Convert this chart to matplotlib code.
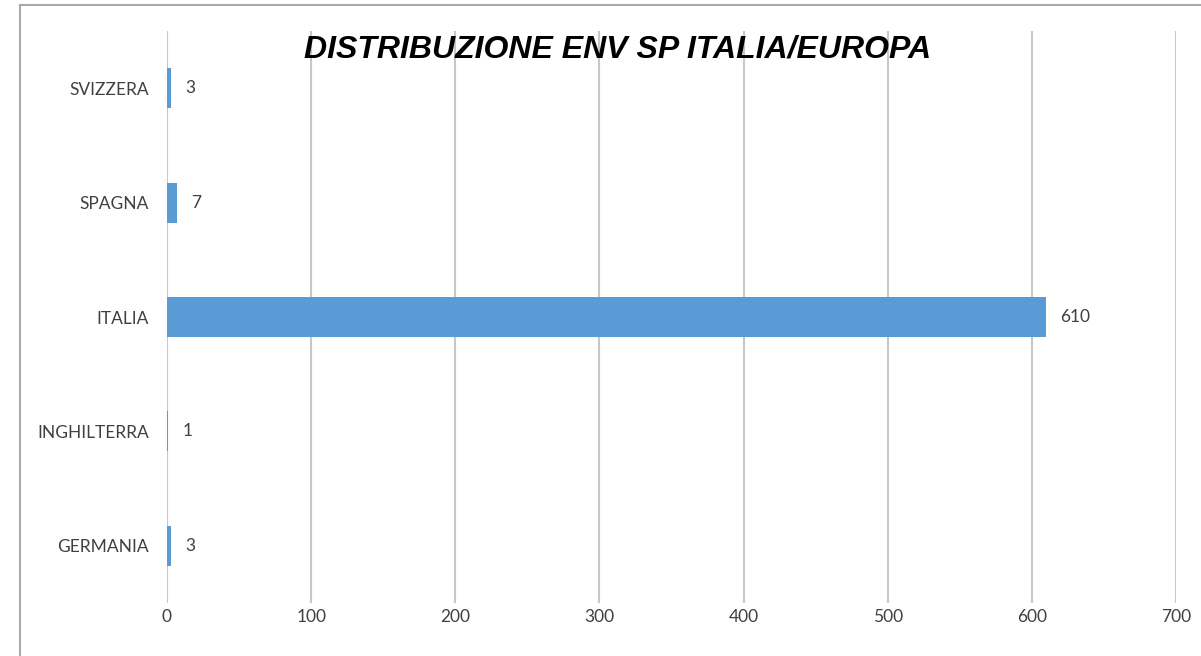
import numpy as np
import matplotlib.pyplot as plt
from matplotlib.lines import Line2D

countries = ["GERMANIA", "INGHILTERRA", "ITALIA", "SPAGNA", "SVIZZERA"]
counts = [3, 1, 610, 7, 3]
xticks = [0, 100, 200, 300, 400, 500, 600, 700]
title = "DISTRIBUZIONE ENV SP ITALIA/EUROPA"

W, H = 1201, 656
fig = plt.figure(figsize=(W / 100, H / 100), dpi=100)
ax = fig.add_axes([167 / W, 1 - 603 / H, (1176 - 167) / W, (603 - 31) / H])

y = np.arange(len(countries))
ax.barh(y, counts, height=0.35, color="#5B9BD5", edgecolor="none", zorder=3)
for yi, v in zip(y, counts):
    ax.annotate(str(v), (v, yi), xytext=(10, 0), textcoords="offset points",
                ha="left", va="center", fontsize=12.5, color="#404040",
                family="Lato")

ax.set_xlim(0, 700)
ax.set_ylim(-0.5, len(countries) - 0.5)
ax.set_xticks(xticks)
ax.set_yticks(y)
ax.set_yticklabels(countries)
ax.grid(axis="x", color="#C8C8C8", lw=1.5, zorder=0)
ax.tick_params(length=0, labelsize=12.5, labelcolor="#404040")
ax.tick_params(axis="x", pad=4)
ax.tick_params(axis="y", pad=13)
for lab in ax.get_xticklabels() + ax.get_yticklabels():
    lab.set_family("Lato")
for s in ax.spines.values():
    s.set_visible(False)

fig.text(618 / W, 1 - 50 / H, title, ha="center", va="center",
         fontsize=23, fontweight="bold", fontstyle="italic",
         family="Liberation Sans")

# frame border (only top and left visible in the crop)
fig.add_artist(Line2D([20 / W, 1], [1 - 5 / H, 1 - 5 / H], color="#AAAAAA", lw=1.5,
                      transform=fig.transFigure))
fig.add_artist(Line2D([20 / W, 20 / W], [0, 1 - 5 / H], color="#AAAAAA", lw=1.5,
                      transform=fig.transFigure))

fig.savefig("out.png", dpi=100)
